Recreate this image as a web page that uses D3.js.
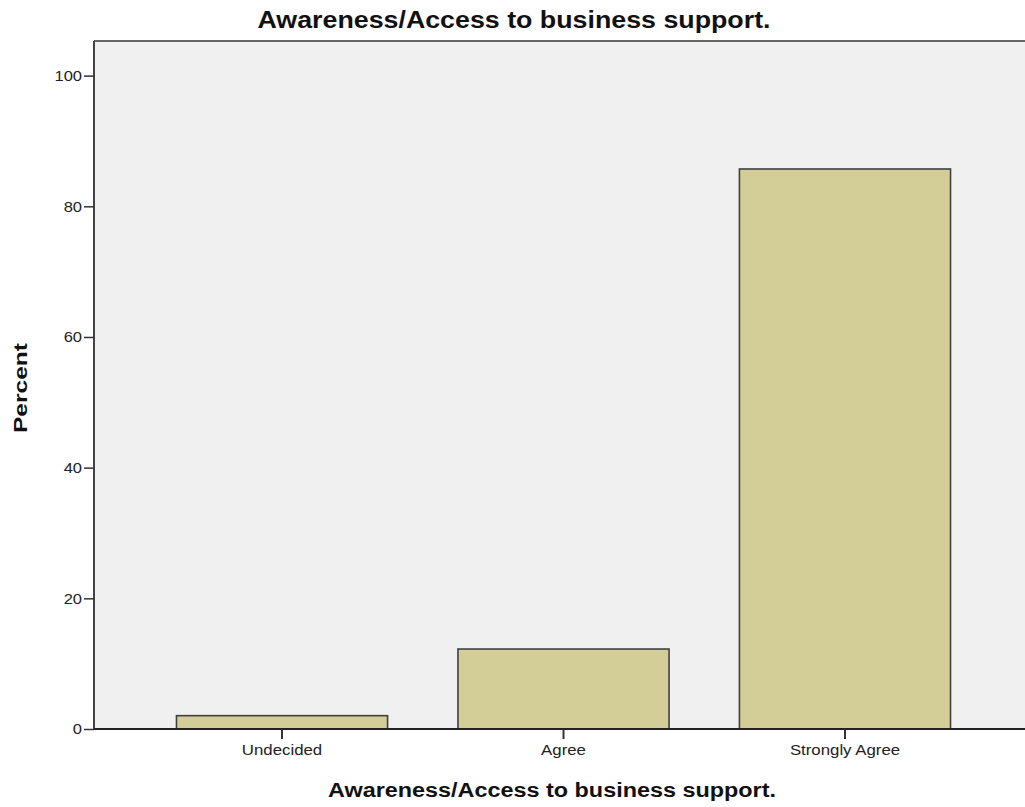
<!DOCTYPE html>
<html><head><meta charset="utf-8">
<script src="https://cdn.jsdelivr.net/npm/d3@7"></script>
<style>body{margin:0;background:#fff}svg{display:block}text{font-family:"Liberation Sans",Arial,sans-serif}</style>
</head><body>
<svg id="c" width="1025" height="807"></svg>
<script>
const categories = ["Undecided", "Agree", "Strongly Agree"];
const percents = [2.04, 12.24, 85.71];
const yTicks = [0, 20, 40, 60, 80, 100];
const titleText = "Awareness/Access to business support.";
const xTitle = "Awareness/Access to business support.";
const yTitle = "Percent";

const svg = d3.select("#c");
const L = 94, R = 1033, T = 41, B = 729;
const x = d3.scaleBand().domain(categories).range([L, R]).paddingInner(0.25).paddingOuter(0.293);
const y = d3.scaleLinear().domain([0, 105.3]).range([B, T]);

svg.append("rect").attr("x", L).attr("y", T).attr("width", 1025 - L).attr("height", B - T).attr("fill", "#f0f0f0");
svg.append("line").attr("x1", L).attr("x2", 1025).attr("y1", T).attr("y2", T).attr("stroke", "#666").attr("stroke-width", 2);

svg.append("g").selectAll("rect").data(categories).join("rect")
  .attr("x", d => x(d)).attr("width", x.bandwidth())
  .attr("y", (d, i) => y(percents[i])).attr("height", (d, i) => B - y(percents[i]))
  .attr("fill", "#d3ce97").attr("stroke", "#404040").attr("stroke-width", 1.6);

function stretch(sel, f) {
  sel.each(function () { const w = this.getComputedTextLength(); d3.select(this).attr("textLength", w * f).attr("lengthAdjust", "spacingAndGlyphs"); });
}

const ya = svg.append("g").attr("transform", `translate(${L},0)`)
  .call(d3.axisLeft(y).tickValues(yTicks).tickSize(10).tickPadding(2).tickFormat(d3.format("d")));
ya.select(".domain").attr("d", `M0,${T}V${B}`).attr("stroke", "#444").attr("stroke-width", 2);
ya.selectAll(".tick line").attr("stroke", "#333").attr("stroke-width", 1.5);
ya.selectAll(".tick text").attr("font-size", 15).attr("fill", "#222").call(stretch, 1.1);

const xa = svg.append("g").attr("transform", `translate(0,${B})`)
  .call(d3.axisBottom(x).tickSize(10).tickPadding(5).tickSizeOuter(0));
xa.select(".domain").attr("d", `M${L},0H1025`).attr("stroke", "#222").attr("stroke-width", 2);
xa.selectAll(".tick line").attr("stroke", "#333").attr("stroke-width", 2);
xa.selectAll(".tick text").attr("font-size", 15).attr("fill", "#222").call(stretch, 1.12);

svg.append("text").attr("x", 514).attr("y", 28).attr("text-anchor", "middle")
  .attr("font-size", 23).attr("font-weight", "bold").attr("fill", "#111").text(titleText)
  .attr("textLength", 513).attr("lengthAdjust", "spacingAndGlyphs");
svg.append("text").attr("x", 552).attr("y", 797).attr("text-anchor", "middle")
  .attr("font-size", 20).attr("font-weight", "bold").attr("fill", "#111").text(xTitle)
  .attr("textLength", 448).attr("lengthAdjust", "spacingAndGlyphs");
svg.append("text").attr("transform", "translate(27,388) rotate(-90)").attr("text-anchor", "middle")
  .attr("font-size", 19).attr("font-weight", "bold").attr("fill", "#111").text(yTitle)
  .attr("textLength", 90).attr("lengthAdjust", "spacingAndGlyphs");
</script>
</body></html>
